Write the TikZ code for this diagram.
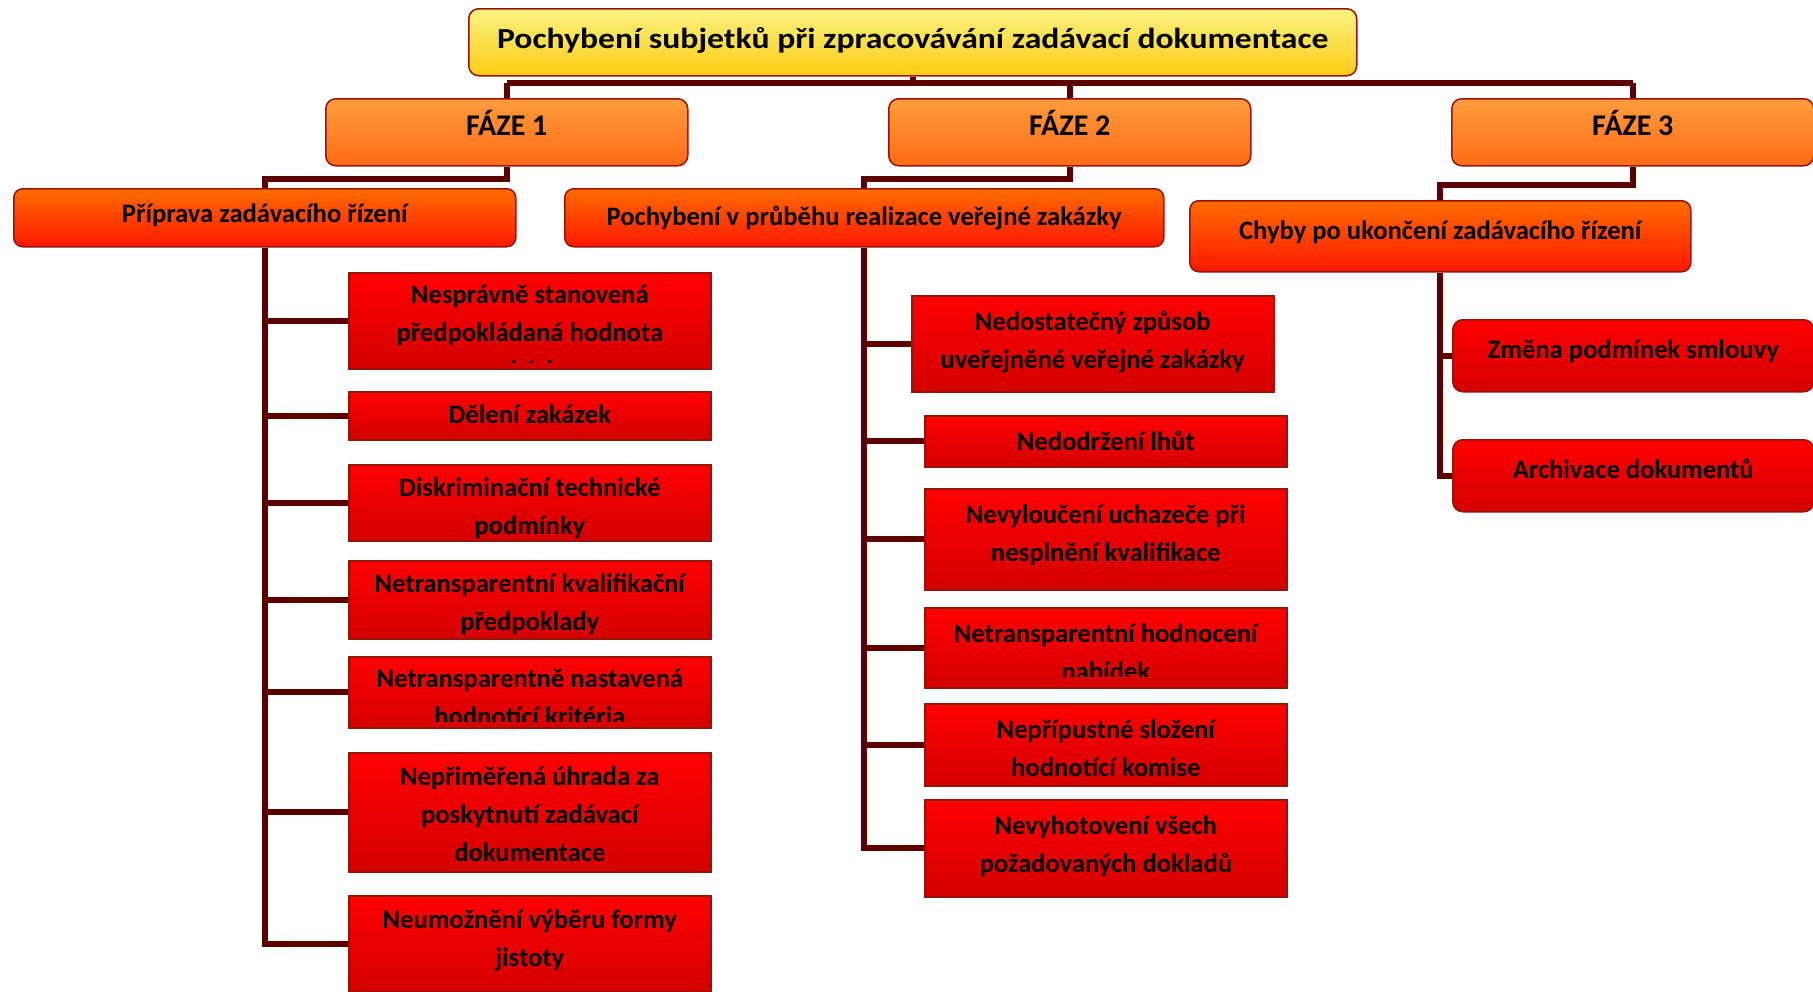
\documentclass[tikz,border=0pt]{standalone}
\usepackage{fontspec}
\setmainfont{Carlito}
\newfontfamily\headface[FakeStretch=1.16]{Carlito}
\usetikzlibrary{positioning}

\definecolor{linkcol}{RGB}{92,0,0}
\definecolor{edgecol}{RGB}{150,20,10}
\definecolor{headtop}{RGB}{248,242,130}
\definecolor{headbot}{RGB}{255,204,20}
\definecolor{fazetop}{RGB}{255,156,60}
\definecolor{fazebot}{RGB}{255,108,20}
\definecolor{grouptop}{RGB}{255,108,0}
\definecolor{groupbot}{RGB}{255,24,0}
\definecolor{leaftop}{RGB}{255,0,0}
\definecolor{leafbot}{RGB}{212,0,0}

% text of a leaf box, cut off a little above the box bottom
\newcommand{\boxtext}[4][7pt]{%
	\begin{scope}
		\clip (#2.north west) rectangle ([yshift=#1]#2.south east);
		\node[#3] (#2-text) at (#2.north) {#4};
	\end{scope}}

\begin{document}
\begin{tikzpicture}[
		x=1pt, y=-1pt,
		link/.style={draw=linkcol, line width=6pt},
		basebox/.style={draw=edgecol, line width=1.5pt, anchor=north west, inner sep=0pt, align=center},
		headbox/.style={basebox, rounded corners=10pt, top color=headtop, bottom color=headbot, minimum width=888pt, minimum height=67pt, text height=22pt, text depth=9pt, font=\headface\bfseries\fontsize{29}{34}\selectfont},
		fazebox/.style={basebox, rounded corners=10pt, top color=fazetop, bottom color=fazebot, minimum width=362pt, minimum height=67pt, text height=20pt, text depth=14pt, font=\bfseries\fontsize{30}{34}\selectfont},
		groupbox/.style={basebox, rounded corners=9pt, top color=grouptop, bottom color=groupbot, text height=20pt, text depth=14pt, font=\bfseries\fontsize{26.6}{32}\selectfont},
		endbox/.style={basebox, rounded corners=10pt, top color=leaftop, bottom color=leafbot, minimum width=361pt, minimum height=72pt, text height=20pt, text depth=14pt, font=\bfseries\fontsize{26.6}{32}\selectfont},
		leaf/.style={basebox, top color=leaftop, bottom color=leafbot, minimum width=362pt},
		leaftext/.style={anchor=north, inner sep=0pt, align=center, yshift=-13.4pt, font=\bfseries\fontsize{26.6}{38}\selectfont},
	]
	\clip (0,0) rectangle (1813,991);
	\useasboundingbox (0,0) rectangle (1813,991);

	% top and phases
	\node[headbox] (head) at (468,8) {Pochybení subjetků při zpracovávání zadávací dokumentace};
	\node[fazebox] (faze1) at (325,98) {FÁZE 1};
	\node[fazebox] (faze2) at (888,98) {FÁZE 2};
	\node[fazebox] (faze3) at (1451,98) {FÁZE 3};
	\coordinate (bar) at (0,83);

	\node[groupbox, minimum width=502pt, minimum height=58pt, text height=23pt] (prep) at (13,188) {Příprava zadávacího řízení};
	\node[groupbox, minimum width=599pt, minimum height=58pt, text height=29pt] (pochyb) at (564,188) {Pochybení v průběhu realizace veřejné zakázky};
	\node[groupbox, minimum width=501pt, minimum height=71pt] (chyby) at (1189,200) {Chyby po ukončení zadávacího řízení};

	% phase 1
	\node[leaf, minimum height=96pt] (a1) at (348,272) {};
	\node[leaf, minimum height=48pt] (a2) at (348,391) {};
	\node[leaf, minimum height=76pt] (a3) at (348,464) {};
	\node[leaf, minimum height=78pt] (a4) at (348,560) {};
	\node[leaf, minimum height=71pt] (a5) at (348,656) {};
	\node[leaf, minimum height=119pt] (a6) at (348,752) {};
	\node[leaf, minimum height=96pt] (a7) at (348,895) {};
	\boxtext{a1}{leaftext}{Nesprávně stanovená\\předpokládaná hodnota\\zakázky}
	\boxtext{a2}{leaftext}{Dělení zakázek}
	\boxtext[2pt]{a3}{leaftext}{Diskriminační technické\\podmínky}
	\boxtext[2pt]{a4}{leaftext}{Netransparentní kvalifikační\\předpoklady}
	\boxtext{a5}{leaftext}{Netransparentně nastavená\\hodnotící kritéria}
	\boxtext{a6}{leaftext, yshift=-1.5pt}{Nepřiměřená úhrada za\\poskytnutí zadávací\\dokumentace}
	\boxtext{a7}{leaftext, yshift=-1.5pt}{Neumožnění výběru formy\\jistoty}

	% phase 2
	\node[leaf, minimum height=96pt] (b1) at (911,295) {};
	\node[leaf, minimum height=51pt] (b2) at (924,415) {};
	\node[leaf, minimum height=101pt] (b3) at (924,488) {};
	\node[leaf, minimum height=80pt] (b4) at (924,607) {};
	\node[leaf, minimum height=82pt] (b5) at (924,703) {};
	\node[leaf, minimum height=97pt] (b6) at (924,799) {};
	\boxtext{b1}{leaftext, yshift=-3pt}{Nedostatečný způsob\\uveřejněné veřejné zakázky}
	\boxtext{b2}{leaftext, yshift=-3pt}{Nedodržení lhůt}
	\boxtext{b3}{leaftext, yshift=-3pt}{Nevyloučení uchazeče při\\nesplnění kvalifikace}
	\boxtext[12pt]{b4}{leaftext, yshift=-3pt}{Netransparentní hodnocení\\nabídek}
	\boxtext[10pt]{b5}{leaftext, yshift=-3pt}{Nepřípustné složení\\hodnotící komise}
	\boxtext{b6}{leaftext, yshift=-3pt}{Nevyhotovení všech\\požadovaných dokladů}

	% phase 3
	\node[endbox] (c1) at (1452,319) {Změna podmínek smlouvy};
	\node[endbox] (c2) at (1452,439) {Archivace dokumentů};

	% connectors
	\draw[link] (head.south) -- (head.south |- bar);
	\foreach \f in {faze1, faze2, faze3}
		\draw[link] (\f.north) -- (\f.north |- bar);
	\draw[link] (faze1.north |- bar) -- (faze3.north |- bar);
	\draw[link] (faze1.south) -- ++(0,12) -| (prep.north);
	\draw[link] (faze2.south) -- ++(0,12) -| (pochyb.north);
	\draw[link] (faze3.south) -- ++(0,18) -| (chyby.north);
	\foreach \n in {a1,a2,a3,a4,a5,a6,a7}
		\draw[link] (prep.south) |- (\n.west);
	\foreach \n in {b1,b2,b3,b4,b5,b6}
		\draw[link] (pochyb.south) |- (\n.west);
	\foreach \n in {c1,c2}
		\draw[link] (chyby.south) |- (\n.west);
\end{tikzpicture}
\end{document}
